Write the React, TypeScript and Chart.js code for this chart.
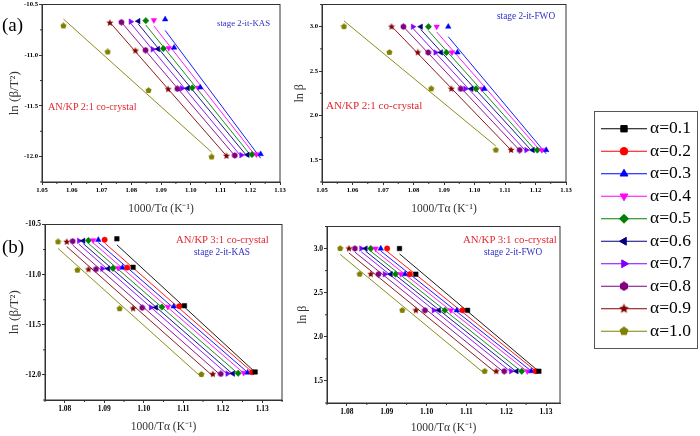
import { useEffect, useRef } from 'react';
import { Chart, registerables } from 'chart.js';

Chart.register(...registerables);

const SERIF = '"Liberation Serif", "Times New Roman", serif';
const RED = '#e3262e';
const BLUE = '#2f2fc8';
const AXIS = '#333333';

const alphaLabels = ['α=0.1', 'α=0.2', 'α=0.3', 'α=0.4', 'α=0.5', 'α=0.6', 'α=0.7', 'α=0.8', 'α=0.9', 'α=1.0'];
const seriesColors = ['#000000', '#ff0000', '#0000ff', '#ff00ff', '#008000', '#000080', '#8000ff', '#800080', '#800000', '#808000'];

// ln β for 20, 15, 10, 5 K/min (top row to bottom row)
const lnBeta = [3.0, 2.71, 2.3, 1.61];

// AN/KP 2:1 - 1000/Tα, same row order as lnBeta. α=0.1 and 0.2 are not plotted.
const invT21: (number[] | null)[] = [
  null,
  null,
  [1.0914, 1.0944, 1.1032, 1.1235],
  [1.0876, 1.0926, 1.1025, 1.1221],
  [1.0849, 1.0908, 1.1005, 1.1206],
  [1.0824, 1.089, 1.099, 1.1191],
  [1.0798, 1.0872, 1.097, 1.117],
  [1.0767, 1.0848, 1.0955, 1.1148],
  [1.0728, 1.0814, 1.0924, 1.112],
  [1.0572, 1.0721, 1.0858, 1.107],
];
// AN/KP 2:1 - ln(β/T²)
const kas21: (number[] | null)[] = [
  null,
  null,
  [-10.646, -10.925, -11.318, -11.975],
  [-10.655, -10.93, -11.32, -11.977],
  [-10.659, -10.935, -11.322, -11.979],
  [-10.664, -10.938, -11.325, -11.982],
  [-10.669, -10.942, -11.327, -11.985],
  [-10.675, -10.95, -11.331, -11.988],
  [-10.681, -10.955, -11.335, -11.993],
  [-10.711, -10.968, -11.348, -12.003],
];

// AN/KP 3:1 - 1000/Tα
const invT31: number[][] = [
  [1.0932, 1.0973, 1.1103, 1.1282],
  [1.0901, 1.0958, 1.109, 1.1274],
  [1.0885, 1.0946, 1.1076, 1.1263],
  [1.0872, 1.0935, 1.1061, 1.1253],
  [1.086, 1.0922, 1.1046, 1.1239],
  [1.0847, 1.091, 1.1031, 1.1226],
  [1.0836, 1.0895, 1.1018, 1.1212],
  [1.082, 1.0879, 1.0996, 1.1195],
  [1.0805, 1.086, 1.0973, 1.1175],
  [1.0783, 1.0832, 1.0939, 1.1146],
];
// AN/KP 3:1 - ln(β/T²)
const kas31: number[][] = [
  [-10.643, -10.927, -11.31, -11.97],
  [-10.653, -10.93, -11.314, -11.973],
  [-10.653, -10.93, -11.317, -11.977],
  [-10.657, -10.934, -11.32, -11.98],
  [-10.66, -10.937, -11.323, -11.983],
  [-10.663, -10.94, -11.327, -11.987],
  [-10.663, -10.94, -11.327, -11.987],
  [-10.667, -10.945, -11.33, -11.99],
  [-10.673, -10.948, -11.337, -11.992],
  [-10.673, -10.955, -11.34, -11.995],
];

const xTicks21 = [1.05, 1.06, 1.07, 1.08, 1.09, 1.1, 1.11, 1.12, 1.13];
const xTicks31 = [1.08, 1.09, 1.1, 1.11, 1.12, 1.13];
const kasTicks = [-12.0, -11.5, -11.0, -10.5];
const fwoTicks = [1.5, 2.0, 2.5, 3.0];

type PanelSpec = {
  box: { left: number; top: number; width: number; height: number };
  pad: { left: number; right: number; top: number; bottom: number };
  yAxisWidth: number;
  xAxisHeight: number;
  xRange: [number, number];
  yRange: [number, number];
  xTicks: number[];
  yTicks: number[];
  xs: (number[] | null)[];
  ys: (number[] | null)[];
  yTitle: string;
  yTitleSize: number;
  yTitleGap: number;
  xTitleGap: number;
  tickSize: number;
};

const panels: PanelSpec[] = [
  {
    box: { left: 0, top: 0, width: 290, height: 215 },
    pad: { left: 0, right: 10, top: 4, bottom: 0 },
    yAxisWidth: 42,
    xAxisHeight: 33,
    xRange: [1.05, 1.13],
    yRange: [-12.25, -10.5],
    xTicks: xTicks21,
    yTicks: kasTicks,
    xs: invT21,
    ys: kas21,
    yTitle: 'ln (β/T²)',
    yTitleSize: 13,
    yTitleGap: 8.5,
    xTitleGap: 0,
    tickSize: 6.7,
  },
  {
    box: { left: 290, top: 0, width: 290, height: 215 },
    pad: { left: 0, right: 14, top: 2, bottom: 0 },
    yAxisWidth: 32,
    xAxisHeight: 33,
    xRange: [1.05, 1.13],
    yRange: [1.25, 3.25],
    xTicks: xTicks21,
    yTicks: fwoTicks,
    xs: invT21,
    ys: invT21.map((x) => (x ? lnBeta : null)),
    yTitle: 'ln β',
    yTitleSize: 12,
    yTitleGap: 4,
    xTitleGap: 0,
    tickSize: 6.7,
  },
  {
    box: { left: 0, top: 215, width: 290, height: 221 },
    pad: { left: 0, right: 8, top: 9.5, bottom: 0 },
    yAxisWidth: 45,
    xAxisHeight: 36,
    xRange: [1.075, 1.135],
    yRange: [-12.25, -10.5],
    xTicks: xTicks31,
    yTicks: kasTicks,
    xs: invT31,
    ys: kas31,
    yTitle: 'ln (β/T²)',
    yTitleSize: 13,
    yTitleGap: 8.5,
    xTitleGap: 3.2,
    tickSize: 7.5,
  },
  {
    box: { left: 290, top: 215, width: 290, height: 221 },
    pad: { left: 0, right: 20, top: 11.5, bottom: 0 },
    yAxisWidth: 37,
    xAxisHeight: 33,
    xRange: [1.075, 1.1335],
    yRange: [1.25, 3.25],
    xTicks: xTicks31,
    yTicks: fwoTicks,
    xs: invT31,
    ys: invT31.map(() => lnBeta),
    yTitle: 'ln β',
    yTitleSize: 12,
    yTitleGap: 7,
    xTitleGap: 2.2,
    tickSize: 7.5,
  },
];

const notes = [
  { text: '(a)', x: 2, y: 24, size: 19, color: '#000' },
  { text: 'stage 2-it-KAS', x: 217, y: 23, size: 8.8, color: BLUE },
  { text: 'AN/KP 2:1 co-crystal', x: 48, y: 107, size: 10.2, color: RED },
  { text: 'stage 2-it-FWO', x: 497, y: 17, size: 9.3, color: BLUE },
  { text: 'AN/KP 2:1 co-crystal', x: 326, y: 106, size: 11.1, color: RED },
  { text: '(b)', x: 2, y: 246, size: 19, color: '#000' },
  { text: 'AN/KP 3:1 co-crystal', x: 176, y: 239, size: 10.7, color: RED },
  { text: 'stage 2-it-KAS', x: 194, y: 253, size: 9.3, color: BLUE },
  { text: 'AN/KP 3:1 co-crystal', x: 463, y: 239, size: 10.8, color: RED },
  { text: 'stage 2-it-FWO', x: 484, y: 253, size: 9.3, color: BLUE },
];

function polygonMarker(kind: 'hex' | 'star' | 'pent', color: string, size: number) {
  const c = document.createElement('canvas');
  c.width = size;
  c.height = size;
  const g = c.getContext('2d')!;
  const n = kind === 'hex' ? 6 : 5;
  const count = kind === 'star' ? n * 2 : n;
  const r = size / 2 - 0.3;
  g.beginPath();
  for (let k = 0; k < count; k++) {
    const a = -Math.PI / 2 + (k * 2 * Math.PI) / count;
    const rr = kind === 'star' && k % 2 ? r * 0.45 : r;
    const px = size / 2 + rr * Math.cos(a);
    const py = size / 2 + rr * Math.sin(a);
    if (k === 0) g.moveTo(px, py);
    else g.lineTo(px, py);
  }
  g.closePath();
  g.fillStyle = color;
  g.fill();
  return c;
}

function markerFor(i: number, size: number): { pointStyle: any; rotation: number; scale: number } {
  const color = seriesColors[i];
  switch (i) {
    case 0: return { pointStyle: 'rect', rotation: 0, scale: 1 };
    case 1: return { pointStyle: 'circle', rotation: 0, scale: 0.85 };
    case 2: return { pointStyle: 'triangle', rotation: 0, scale: 1 };
    case 3: return { pointStyle: 'triangle', rotation: 180, scale: 1 };
    case 4: return { pointStyle: 'rectRot', rotation: 0, scale: 1 };
    case 5: return { pointStyle: 'triangle', rotation: 270, scale: 1 };
    case 6: return { pointStyle: 'triangle', rotation: 90, scale: 1 };
    case 7: return { pointStyle: polygonMarker('hex', color, size), rotation: 0, scale: 1 };
    case 8: return { pointStyle: polygonMarker('star', color, size + 1), rotation: 0, scale: 1 };
    default: return { pointStyle: polygonMarker('pent', color, size), rotation: 0, scale: 1 };
  }
}

function linearFit(xs: number[], ys: number[]) {
  const n = xs.length;
  const mx = xs.reduce((a, b) => a + b, 0) / n;
  const my = ys.reduce((a, b) => a + b, 0) / n;
  let sxy = 0;
  let sxx = 0;
  xs.forEach((x, k) => {
    sxy += (x - mx) * (ys[k] - my);
    sxx += (x - mx) * (x - mx);
  });
  const slope = sxy / sxx;
  return (x: number) => my + slope * (x - mx);
}

function minorValues(scale: any): number[] {
  const t = scale.ticks.map((k: any) => k.value);
  if (t.length < 2) return [];
  const h = (t[1] - t[0]) / 2;
  const out: number[] = [];
  for (let v = t[0] - h; v <= scale.max + 1e-9; v += 2 * h) {
    if (v >= scale.min - 1e-9) out.push(v);
  }
  return out;
}

// box round the plot area plus the short minor ticks
const framePlugin = {
  id: 'frame',
  afterDraw(chart: any) {
    const { ctx, chartArea: a } = chart;
    const sx = chart.scales.x;
    const sy = chart.scales.y;
    ctx.save();
    ctx.strokeStyle = AXIS;
    ctx.lineWidth = 1;
    ctx.strokeRect(a.left, a.top, a.right - a.left, a.bottom - a.top);
    ctx.beginPath();
    minorValues(sx).forEach((v) => {
      const p = sx.getPixelForValue(v);
      ctx.moveTo(p, a.bottom);
      ctx.lineTo(p, a.bottom + 2);
    });
    minorValues(sy).forEach((v) => {
      const p = sy.getPixelForValue(v);
      ctx.moveTo(a.left, p);
      ctx.lineTo(a.left - 2, p);
    });
    ctx.stroke();
    ctx.restore();
  },
};

function Panel({ spec }: { spec: PanelSpec }) {
  const canvasRef = useRef<HTMLCanvasElement>(null);

  useEffect(() => {
    if (!canvasRef.current) return;
    const datasets: any[] = [];
    spec.xs.forEach((xv, i) => {
      const yv = spec.ys[i];
      if (!xv || !yv) return;
      const color = seriesColors[i];
      const m = markerFor(i, 7);
      datasets.push({
        label: alphaLabels[i],
        data: xv.map((x, k) => ({ x, y: yv[k] })),
        pointStyle: m.pointStyle,
        rotation: m.rotation,
        pointRadius: 3.2 * m.scale,
        pointBackgroundColor: color,
        pointBorderColor: color,
        pointBorderWidth: 0.5,
        showLine: false,
        order: 0,
      });
      const fit = linearFit(xv, yv);
      const ends = [Math.min(...xv), Math.max(...xv)];
      datasets.push({
        label: alphaLabels[i] + ' fit',
        data: ends.map((x) => ({ x, y: fit(x) })),
        showLine: true,
        borderColor: color,
        borderWidth: 0.9,
        pointRadius: 0,
        order: 1,
      });
    });

    const tickFont = { family: SERIF, size: spec.tickSize, weight: 'bold' as const };
    const chart = new Chart(canvasRef.current, {
      type: 'scatter',
      data: { datasets },
      plugins: [framePlugin],
      options: {
        animation: false,
        responsive: true,
        maintainAspectRatio: false,
        events: [],
        layout: { padding: spec.pad },
        plugins: { legend: { display: false }, tooltip: { enabled: false } },
        scales: {
          x: {
            type: 'linear',
            min: spec.xRange[0],
            max: spec.xRange[1],
            afterBuildTicks: (s: any) => {
              s.ticks = spec.xTicks.map((value) => ({ value }));
            },
            afterFit: (s: any) => {
              s.height = spec.xAxisHeight;
              s.paddingLeft = 0;
              s.paddingRight = 0;
            },
            ticks: {
              font: tickFont,
              color: '#000',
              padding: 1.5,
              maxRotation: 0,
              autoSkip: false,
              callback: (v: any) => Number(v).toFixed(2),
            },
            grid: { drawOnChartArea: false, tickLength: 3, tickColor: AXIS },
            border: { color: AXIS },
            title: {
              display: true,
              text: '1000/Tα (K⁻¹)',
              color: AXIS,
              font: { family: SERIF, size: 11.5, lineHeight: 1 },
              padding: { top: 0, bottom: spec.xTitleGap },
            },
          },
          y: {
            type: 'linear',
            min: spec.yRange[0],
            max: spec.yRange[1],
            afterBuildTicks: (s: any) => {
              s.ticks = spec.yTicks.map((value) => ({ value }));
            },
            afterFit: (s: any) => {
              s.width = spec.yAxisWidth;
              s.paddingTop = 0;
              s.paddingBottom = 0;
            },
            ticks: {
              font: tickFont,
              color: '#000',
              padding: 1,
              autoSkip: false,
              callback: (v: any) => Number(v).toFixed(1),
            },
            grid: { drawOnChartArea: false, tickLength: 3, tickColor: AXIS },
            border: { color: AXIS },
            title: {
              display: true,
              text: spec.yTitle,
              color: AXIS,
              font: { family: SERIF, size: spec.yTitleSize, lineHeight: 1 },
              padding: { top: spec.yTitleGap, bottom: 0 },
            },
          },
        },
      },
    });
    return () => chart.destroy();
  }, [spec]);

  const b = spec.box;
  return (
    <div style={{ position: 'absolute', left: b.left, top: b.top, width: b.width, height: b.height }}>
      <canvas ref={canvasRef} />
    </div>
  );
}

function Legend() {
  const canvasRef = useRef<HTMLCanvasElement>(null);

  useEffect(() => {
    if (!canvasRef.current) return;
    const datasets: any[] = [];
    alphaLabels.forEach((label, i) => {
      const color = seriesColors[i];
      const m = markerFor(i, 10);
      datasets.push({
        label,
        data: [{ x: 0, y: i }, { x: 1, y: i }],
        showLine: true,
        borderColor: color,
        borderWidth: 1.1,
        pointRadius: 0,
        order: 1,
      });
      datasets.push({
        label: label + ' marker',
        data: [{ x: 0.5, y: i }],
        pointStyle: m.pointStyle,
        rotation: m.rotation,
        pointRadius: 4.5 * m.scale,
        pointBackgroundColor: color,
        pointBorderColor: color,
        showLine: false,
        order: 0,
      });
    });

    const chart = new Chart(canvasRef.current, {
      type: 'scatter',
      data: { datasets },
      options: {
        animation: false,
        responsive: true,
        maintainAspectRatio: false,
        events: [],
        layout: { padding: { left: 6, right: 0, top: 0, bottom: 0 } },
        plugins: { legend: { display: false }, tooltip: { enabled: false } },
        scales: {
          x: { type: 'linear', display: false, min: 0, max: 1 },
          y: {
            type: 'linear',
            position: 'right',
            min: -0.5,
            max: alphaLabels.length - 0.5,
            reverse: true,
            afterBuildTicks: (s: any) => {
              s.ticks = alphaLabels.map((_, i) => ({ value: i }));
            },
            afterFit: (s: any) => {
              s.width = 50;
              s.paddingTop = 0;
              s.paddingBottom = 0;
            },
            ticks: {
              font: { family: SERIF, size: 17.5 },
              color: '#000',
              padding: 3,
              autoSkip: false,
              callback: (v: any) => alphaLabels[Number(v)],
            },
            grid: { display: false, drawTicks: false },
            border: { display: false },
          },
        },
      },
    });
    return () => chart.destroy();
  }, []);

  return (
    <div
      style={{
        position: 'absolute',
        left: 594,
        top: 111,
        width: 104,
        height: 238,
        border: '1px solid #555',
        boxSizing: 'border-box',
        background: '#fff',
      }}
    >
      <div style={{ position: 'relative', width: 102, height: 236 }}>
        <canvas ref={canvasRef} />
      </div>
    </div>
  );
}

export default function App() {
  return (
    <div style={{ position: 'absolute', left: 0, top: 0, width: 700, height: 436, background: '#fff', overflow: 'hidden' }}>
      {panels.map((p, i) => (
        <Panel key={i} spec={p} />
      ))}
      <Legend />
      {notes.map((n, i) => (
        <div
          key={i}
          style={{
            position: 'absolute',
            left: n.x,
            top: n.y,
            transform: 'translateY(-50%)',
            fontFamily: SERIF,
            fontSize: n.size,
            color: n.color,
            lineHeight: 1,
            whiteSpace: 'nowrap',
          }}
        >
          {n.text}
        </div>
      ))}
    </div>
  );
}
